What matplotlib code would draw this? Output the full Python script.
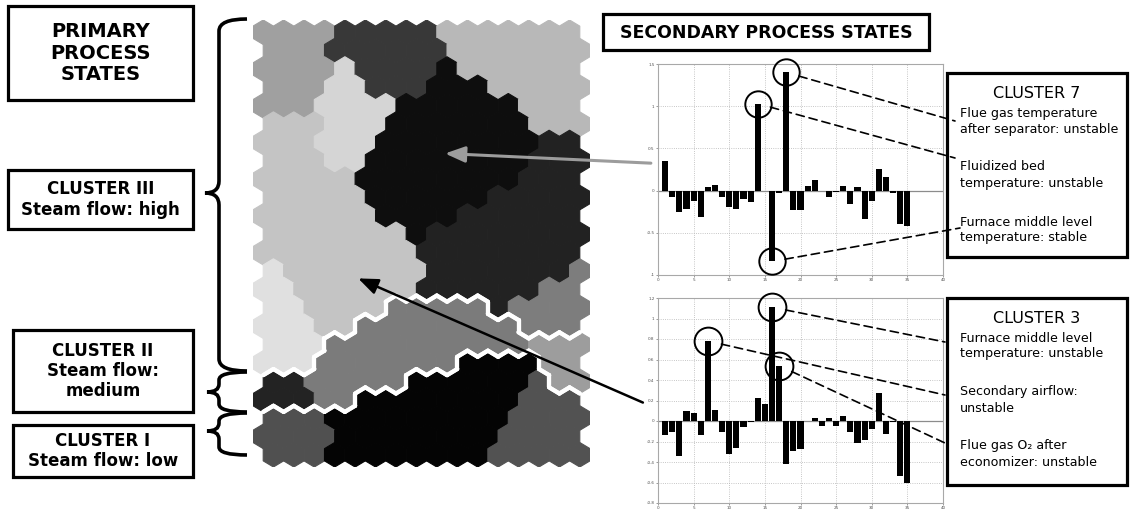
import matplotlib
matplotlib.use("Agg")
import matplotlib.pyplot as plt
from matplotlib.collections import PolyCollection, LineCollection
from matplotlib.patches import Rectangle, ConnectionPatch, PathPatch
from matplotlib.path import Path

W, H = 1130, 509

# SOM cluster map: one letter per hexagon, 24 rows x 16 columns, odd rows shifted right
SOM_GRID = [
    "AAAABBBBBCCCCCCC",
    "AAABBBBBBCCCCCCC",
    "AAAADBBBBECCCCCC",
    "AAADDBBBEEECCCCC",
    "AAADDDDEEEEEECCC",
    "FFFDDDEEEEEEECCC",
    "FFFDDDEEEEEEEEGG",
    "FFFDDEEEEEEEEGGG",
    "FFFFFEEEEEEEEGGG",
    "FFFFFEEEEEEGGGGG",
    "FFFFFFEEEEGGGGGG",
    "FFFFFFFEGGGGGGGG",
    "FFFFFFFFGGGGGGGG",
    "HFFFFFFFGGGGGGGO",
    "HHFFFFFFGGGGGGOO",
    "HHFFFFIIIIIGOOOO",
    "HHHFFIIIIIIIIOOO",
    "HHHIIIIIIIIIIJJJ",
    "HHHIIIIIIIMMMMJJ",
    "KKIIIIIMMMMMMNJJ",
    "KKKIIMMMMMMMMNNN",
    "LLLMMMMMMMMMNNNN",
    "LLLLMMMMMMMMNNNN",
    "LLLMMMMMMMMNNNNN",
]
REGION_GRAY = {
    "A": "#a0a0a0", "B": "#383838", "C": "#b8b8b8", "D": "#d5d5d5",
    "E": "#0e0e0e", "F": "#c4c4c4", "G": "#222222", "H": "#e0e0e0",
    "O": "#7d7d7d", "I": "#7b7b7b", "J": "#9d9d9d", "K": "#232323",
    "L": "#505050", "M": "#040404", "N": "#525252",
}
PRIMARY_CLUSTER = {r: 3 for r in REGION_GRAY}
PRIMARY_CLUSTER.update({"I": 2, "J": 2, "K": 2, "L": 1, "M": 1, "N": 1})

# secondary process state profiles (35 process variables)
VAR_INDEX = list(range(1, 36))
CLUSTER7_VALUES = [0.35, -0.07, -0.25, -0.22, -0.12, -0.31, 0.04, 0.07, -0.07, -0.19,
                   -0.22, -0.10, -0.13, 1.03, 0.0, -0.84, -0.03, 1.40, -0.235, -0.23,
                   0.05, 0.13, -0.01, -0.08, -0.02, 0.05, -0.16, 0.04, -0.34, -0.12,
                   0.25, 0.16, -0.03, -0.40, -0.42]
CLUSTER3_VALUES = [-0.14, -0.11, -0.34, 0.10, 0.075, -0.14, 0.78, 0.11, -0.11, -0.32,
                   -0.26, -0.055, -0.013, 0.22, 0.17, 1.11, 0.54, -0.42, -0.29, -0.27,
                   0.0, 0.03, -0.05, 0.025, -0.05, 0.05, -0.11, -0.21, -0.19, -0.08,
                   0.27, -0.13, -0.01, -0.535, -0.60]
CLUSTER7_MARKED = [18, 14, 16]
CLUSTER3_MARKED = [16, 7, 17]
CLUSTER7_NOTES = ["Flue gas temperature\nafter separator: unstable",
                  "Fluidized bed\ntemperature: unstable",
                  "Furnace middle level\ntemperature: stable"]
CLUSTER3_NOTES = ["Furnace middle level\ntemperature: unstable",
                  "Secondary airflow:\nunstable",
                  "Flue gas O\u2082 after\neconomizer: unstable"]
PRIMARY_LABELS = ["CLUSTER III\nSteam flow: high",
                  "CLUSTER II\nSteam flow:\nmedium",
                  "CLUSTER I\nSteam flow: low"]

fig = plt.figure(figsize=(W / 100, H / 100), dpi=100)
fig.patch.set_facecolor("white")


def px_axes(left, top, right, bottom):
    return fig.add_axes([left / W, 1 - bottom / H, (right - left) / W, (bottom - top) / H])


# ---- hexagonal cluster map ----
T = 2 / 3  # tip height of a hexagon in row units
HEX = [(0, -T), (0.5, -T / 2), (0.5, T / 2), (0, T), (-0.5, T / 2), (-0.5, -T / 2)]
nrows, ncols = len(SOM_GRID), len(SOM_GRID[0])

ax_map = px_axes(253, 20, 590, 467)
polys, faces = [], []
for r, row in enumerate(SOM_GRID):
    for c, reg in enumerate(row):
        cx = c + 0.5 * (r % 2)
        polys.append([(cx + dx, r + dy) for dx, dy in HEX])
        faces.append(REGION_GRAY[reg])
ax_map.add_collection(PolyCollection(polys, facecolors=faces, edgecolors=faces, linewidths=0.8))

# white borders between the primary clusters
segs = []
for r, row in enumerate(SOM_GRID):
    for c, reg in enumerate(row):
        cx = c + 0.5 * (r % 2)
        # neighbour offsets matching each hex edge (v0-v1, v1-v2, ...)
        for e, (dr, dx) in enumerate([(-1, 0.5), (0, 1), (1, 0.5), (1, -0.5), (0, -1), (-1, -0.5)]):
            rr = r + dr
            if not 0 <= rr < nrows:
                continue
            cc = int(round(cx + dx - 0.5 * (rr % 2)))
            if not 0 <= cc < ncols:
                continue
            if PRIMARY_CLUSTER[SOM_GRID[rr][cc]] != PRIMARY_CLUSTER[reg]:
                p, q = HEX[e], HEX[(e + 1) % 6]
                segs.append([(cx + p[0], r + p[1]), (cx + q[0], r + q[1])])
ax_map.add_collection(LineCollection(segs, colors="white", linewidths=3.0, capstyle="round"))
ax_map.set_xlim(-0.5, ncols)
ax_map.set_ylim(nrows - 1 + T, -T)
ax_map.axis("off")


# ---- secondary state bar charts ----
def bar_panel(ax, values, ylim, yticks, marked, ms):
    ax.bar(VAR_INDEX, values, width=0.85, color="black", zorder=3)
    ax.axhline(0, color="#8c8c8c", lw=0.9, zorder=2)
    ax.set_xlim(0, 40)
    ax.set_ylim(*ylim)
    ax.set_xticks(range(0, 41, 5))
    ax.set_yticks(yticks)
    ax.grid(True, ls=":", color="#b4b4b4", lw=0.6)
    ax.tick_params(labelsize=3, length=1.5, width=0.4, colors="#505050", pad=1)
    for s in ax.spines.values():
        s.set_color("#a8a8a8")
        s.set_linewidth(0.8)
    for k in marked:
        ax.plot([k], [values[k - 1]], marker="o", ms=ms, mfc="none", mec="black",
                mew=1.4, zorder=4, clip_on=False)


ax_top = px_axes(658, 64, 943, 275)
bar_panel(ax_top, CLUSTER7_VALUES, (-1, 1.5), [-1, -0.5, 0, 0.5, 1, 1.5], CLUSTER7_MARKED, 19)
ax_top.set_yticklabels(["-1", "-0.5", "0", "0.5", "1", "1.5"])
ax_bot = px_axes(658, 298, 943, 503)
bar_panel(ax_bot, CLUSTER3_VALUES, (-0.8, 1.2), [-0.8, -0.6, -0.4, -0.2, 0, 0.2, 0.4, 0.6, 0.8, 1, 1.2],
          CLUSTER3_MARKED, 20)
ax_bot.set_yticklabels(["-0.8", "-0.6", "-0.4", "-0.2", "0", "0.2", "0.4", "0.6", "0.8", "1", "1.2"])

# dashed leaders from the marked bars to the notes
for ax, vals, marked, ends, rad in [
    (ax_top, CLUSTER7_VALUES, CLUSTER7_MARKED, [(955, 121), (955, 158), (960, 228)], 9.5),
    (ax_bot, CLUSTER3_VALUES, CLUSTER3_MARKED, [(945, 342), (945, 395), (945, 443)], 10),
]:
    for k, (ex, ey) in zip(marked, ends):
        con = ConnectionPatch(xyA=(k, vals[k - 1]), coordsA=ax.transData,
                              xyB=(ex, H - ey), coordsB="figure pixels",
                              color="black", lw=1.2, ls=(0, (5, 3)), shrinkA=rad, shrinkB=0)
        fig.add_artist(con)

# arrows from the profiles to the map cells they describe
gray_arrow = ConnectionPatch(xyA=(-0.025, 0.53), coordsA=ax_top.transAxes,
                             xyB=(8.9, 6.6), coordsB=ax_map.transData,
                             arrowstyle="-|>,head_length=0.8,head_width=0.32", mutation_scale=15,
                             color="#9c9c9c", lw=2.2)
fig.add_artist(gray_arrow)
black_arrow = ConnectionPatch(xyA=(-0.053, 0.49), coordsA=ax_bot.transAxes,
                              xyB=(4.65, 13.4), coordsB=ax_map.transData,
                              arrowstyle="-|>,head_length=0.8,head_width=0.32", mutation_scale=15,
                              color="black", lw=1.8)
fig.add_artist(black_arrow)

# ---- labels, boxes and braces ----
ov = fig.add_axes([0, 0, 1, 1])
ov.set_xlim(0, W)
ov.set_ylim(H, 0)
ov.axis("off")


def box(x0, y0, x1, y1, lw=2.3):
    ov.add_patch(Rectangle((x0, y0), x1 - x0, y1 - y0, fill=False, ec="black", lw=lw))


def brace(x_tip, x_spine, x_end, y0, ym, y1, r):
    verts = [(x_end, y0), (x_spine, y0), (x_spine, y0 + r),
             (x_spine, ym - r), (x_spine, ym), (x_tip, ym),
             (x_spine, ym), (x_spine, ym + r),
             (x_spine, y1 - r), (x_spine, y1), (x_end, y1)]
    codes = [Path.MOVETO, Path.CURVE3, Path.CURVE3,
             Path.LINETO, Path.CURVE3, Path.CURVE3,
             Path.CURVE3, Path.CURVE3,
             Path.LINETO, Path.CURVE3, Path.CURVE3]
    ov.add_patch(PathPatch(Path(verts, codes), fill=False, lw=2.6, ec="black", capstyle="butt"))


bold = dict(fontweight="bold", family="DejaVu Sans", ha="center", va="center", linespacing=1.15)
box(8, 6, 193, 100)
ov.text(100.5, 53, "PRIMARY\nPROCESS\nSTATES", fontsize=14, **bold)
for (x0, y0, x1, y1), lab in zip([(8, 170, 193, 229), (13, 330, 193, 412), (13, 425, 193, 477)],
                                 PRIMARY_LABELS):
    box(x0, y0, x1, y1)
    ov.text((x0 + x1) / 2, (y0 + y1) / 2, lab, fontsize=12, **bold)

brace(205, 219, 247, 19, 193, 371, 12)
brace(207, 219, 247, 372, 392, 412, 8)
brace(207, 219, 247, 413, 431, 455, 8)

box(603, 14, 929, 50)
ov.text(766, 32.5, "SECONDARY PROCESS STATES", fontsize=12.5, **bold)

for (y0, y1), title, ty, notes, nys in [
    ((73, 257), "CLUSTER 7", 93, CLUSTER7_NOTES, [121.5, 175, 230]),
    ((298, 485), "CLUSTER 3", 318.5, CLUSTER3_NOTES, [346, 400, 454]),
]:
    box(947, y0, 1127, y1)
    ov.text(1037, ty, title, fontsize=11.5, ha="center", va="center")
    for note, ny in zip(notes, nys):
        ov.text(960, ny, note, fontsize=9.1, ha="left", va="center", linespacing=1.3)

fig.savefig("out.png", dpi=100, facecolor="white")
